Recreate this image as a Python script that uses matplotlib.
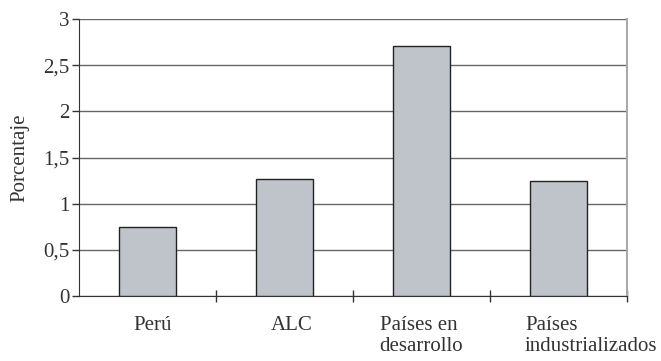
import matplotlib
matplotlib.use("Agg")
import matplotlib.pyplot as plt
from matplotlib.ticker import FixedLocator

categories = ["Perú", "ALC", "Países en\ndesarrollo", "Países\nindustrializados"]
values = [0.75, 1.27, 2.71, 1.25]
yticks = [0, 0.5, 1, 1.5, 2, 2.5, 3]
ytick_labels = ["0", "0,5", "1", "1,5", "2", "2,5", "3"]

plt.rcParams['font.family'] = ['Liberation Serif', 'DejaVu Serif']
FS = 15

fig = plt.figure(figsize=(6.61, 3.61), dpi=100)
ax = fig.add_axes([79/661, 65/361, 548/661, 277/361])

x = list(range(len(categories)))
ax.bar(x, values, width=0.41, color="#bfc3ca", edgecolor="#222222", linewidth=1.0, zorder=3)

ax.set_xlim(-0.5, len(categories) - 0.5)
ax.set_ylim(0, 3)
ax.set_yticks(yticks)
ax.set_yticklabels(ytick_labels, fontsize=FS, color="#333333")
ax.yaxis.grid(True, color="#666666", linewidth=1.0, zorder=0)
ax.set_axisbelow(True)

ax.set_xticks(x)
ax.set_xticklabels([])
ax.tick_params(axis='x', which='major', length=0)
ax.xaxis.set_minor_locator(FixedLocator([0.5, 1.5, 2.5, 3.5]))
ax.tick_params(axis='x', which='minor', direction='inout', length=8, width=1, color="#333333")
ax.tick_params(axis='y', direction='out', length=5, width=1, color="#333333", pad=2)

label_dx = [0.04, 0.05, 0.0, 0.0]
for xi, lab, dx in zip(x, categories, label_dx):
    if xi == 3:
        ax.text(xi - 0.245, -0.22, lab, ha='left', va='top', fontsize=FS, color="#333333",
                multialignment='left', linespacing=1.1)
    else:
        ax.text(xi + dx, -0.22, lab, ha='center', va='top', fontsize=FS, color="#333333",
                multialignment='left', linespacing=1.1)

ax.set_ylabel("Porcentaje", fontsize=FS, color="#333333", labelpad=10)

ax.spines['top'].set_visible(False)
ax.spines['left'].set_color("#333333")
ax.spines['bottom'].set_color("#333333")
ax.spines['right'].set_color("#aaaaaa")
ax.spines['right'].set_linewidth(1.5)

fig.savefig("out.png", dpi=100)
